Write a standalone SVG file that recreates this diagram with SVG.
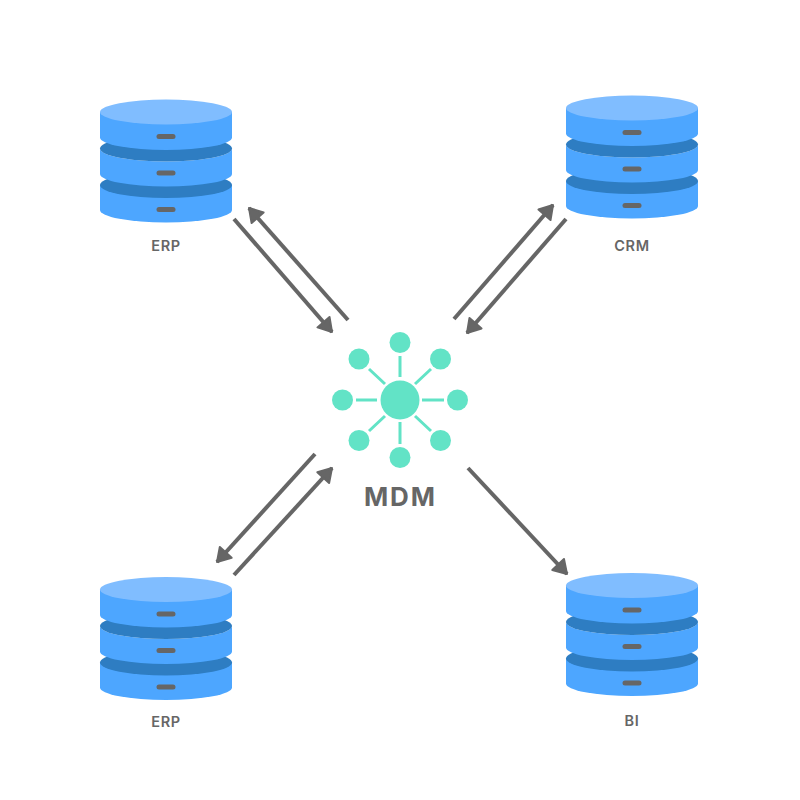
<svg xmlns="http://www.w3.org/2000/svg" width="800" height="800" viewBox="0 0 800 800">
<style>
.body{fill:#4DA6FF}
.lip{fill:#2E7DC2}
.top{fill:#80BDFF}
.slot{fill:#666666}
.lab{font-family:"Inter","Noto Sans",sans-serif;font-weight:700;fill:#666666;text-anchor:middle}
.db{font-size:14.500px;letter-spacing:0.6px;font-weight:600}
.conn{stroke:#666666;stroke-width:4;fill:none;marker-end:url(#head)}
.hub{fill:#62E3C6}
.spoke{stroke:#62E3C6;stroke-width:3;fill:none}
</style>
<defs>
<marker id="head" markerUnits="userSpaceOnUse" markerWidth="24" markerHeight="24" refX="15" refY="10" orient="auto">
<path d="M2 2L15 10L2 18Z" fill="#666666" stroke="#666666" stroke-width="2" stroke-linejoin="round"/>
</marker>
<g id="cyl">
<path class="body" d="M-66 73V98A66 12.500 0 0 0 66 98V73Z"/>
<ellipse class="lip" cx="0" cy="73" rx="66" ry="13"/>
<path class="body" d="M-66 36.500V62A66 12.500 0 0 0 66 62V36.500A66 13 0 0 1 -66 36.500Z"/>
<ellipse class="lip" cx="0" cy="36.500" rx="66" ry="13"/>
<path class="body" d="M-66 0V25.500A66 12.500 0 0 0 66 25.500V0Z"/>
<ellipse class="top" cx="0" cy="0" rx="66" ry="12.500"/>
<rect class="slot" x="-9.500" y="22" width="19" height="5" rx="2.500"/>
<rect class="slot" x="-9.500" y="58.500" width="19" height="5" rx="2.500"/>
<rect class="slot" x="-9.500" y="95" width="19" height="5" rx="2.500"/>
</g>
</defs>
<rect width="800" height="800" fill="#FFFFFF"/>
<g id="connectors">
<path class="conn" d="M234 219L332 332"/>
<path class="conn" d="M348 320L249 208"/>
<path class="conn" d="M454 319L553 205"/>
<path class="conn" d="M566 219L467 333"/>
<path class="conn" d="M315 454L217 562"/>
<path class="conn" d="M234 575L332 468"/>
<path class="conn" d="M468 468L567 574"/>
</g>
<g id="erp-top"><use href="#cyl" x="166" y="112"/><text class="lab db" x="166" y="250.500">ERP</text></g>
<g id="crm"><use href="#cyl" x="632" y="108"/><text class="lab db" x="632" y="250.500">CRM</text></g>
<g id="erp-bottom"><use href="#cyl" x="166" y="589.500"/><text class="lab db" x="166" y="726.500">ERP</text></g>
<g id="bi"><use href="#cyl" x="632" y="585.500"/><text class="lab db" x="632" y="725.500">BI</text></g>
<g id="mdm">
<path class="spoke" d="M400 356V377M400 422V444M356 400H377M422 400H444M369 369L385 384M431 369L415 384M369 431L385 416M431 431L415 416"/>
<circle class="hub" cx="400" cy="400" r="19.500"/>
<circle class="hub" cx="400" cy="342.500" r="10.500"/>
<circle class="hub" cx="400" cy="457.500" r="10.500"/>
<circle class="hub" cx="342.500" cy="400" r="10.500"/>
<circle class="hub" cx="457.500" cy="400" r="10.500"/>
<circle class="hub" cx="359" cy="359" r="10.500"/>
<circle class="hub" cx="440.500" cy="359" r="10.500"/>
<circle class="hub" cx="359" cy="440.500" r="10.500"/>
<circle class="hub" cx="440.500" cy="440.500" r="10.500"/>
<text class="lab" x="400.500" y="506" font-size="26" letter-spacing="2">MDM</text>
</g>
</svg>
